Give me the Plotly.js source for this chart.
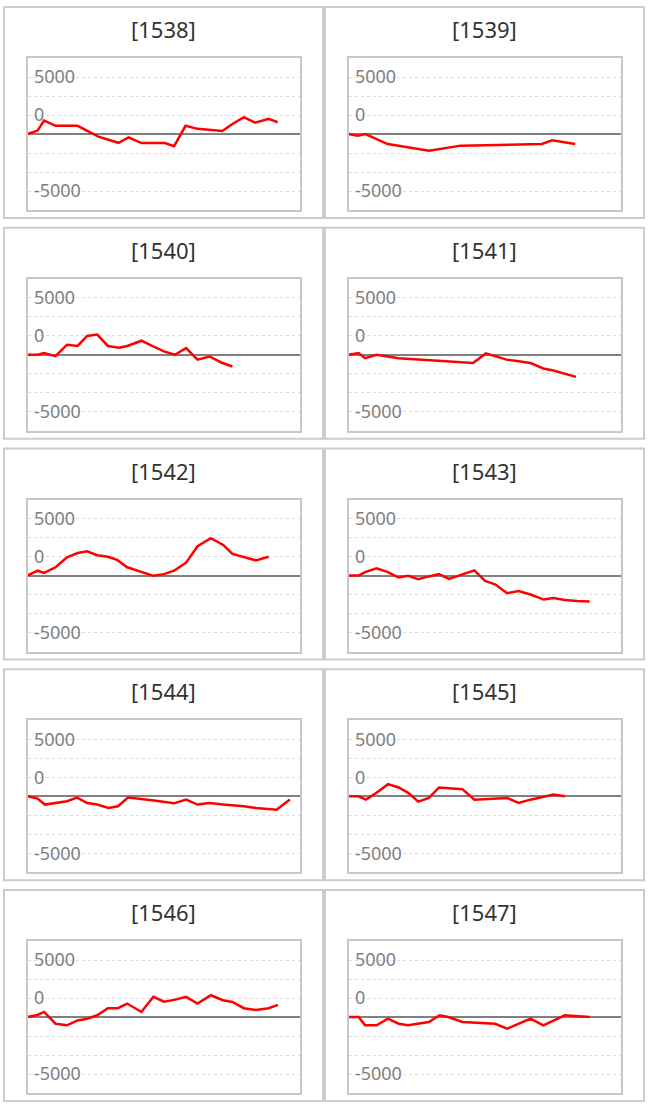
<!DOCTYPE html>
<html>
<head>
<meta charset="utf-8">
<script src="https://cdn.plot.ly/plotly-3.0.1.min.js"></script>
<style>
  html, body { margin: 0; padding: 0; background: #fff; }
  #chart { width: 649px; height: 1110px; }
</style>
</head>
<body>
<div id="chart"></div>
<script>
// panel ids
const ids = ['1538', '1539', '1540', '1541', '1542', '1543', '1544', '1545', '1546', '1547'];

// x positions (time axis, 0..100) and values per panel
const x1538 = [0, 3.7, 6.1, 10.3, 18.4, 26.0, 33.4, 37.1, 41.8, 50.4, 53.8, 58.0, 62.4, 71.5, 75.2, 79.4, 83.5, 88.5, 91.8];
const y1538 = [0, 300, 1180, 720, 720, -230, -770, -300, -800, -800, -1070, 720, 450, 270, 880, 1480, 1000, 1330, 1030];

const x1539 = [0, 3.4, 6.2, 14.4, 29.6, 41.2, 71.0, 74.7, 83.2];
const y1539 = [0, -150, 0, -880, -1460, -1020, -880, -550, -880];

const x1540 = [0, 3.7, 6.1, 10.3, 14.5, 18.4, 21.9, 25.6, 29.5, 33.7, 36.6, 41.8, 45.7, 50.1, 54.1, 58.2, 62.4, 66.8, 71.3, 75.2];
const y1540 = [0, 0, 150, -120, 880, 770, 1650, 1770, 770, 620, 770, 1230, 770, 300, 0, 580, -430, -150, -700, -1030];

const x1541 = [0, 3.7, 6.1, 10.3, 18.4, 45.7, 50.4, 58.0, 66.8, 71.5, 75.2, 83.5];
const y1541 = [0, 150, -300, 0, -300, -730, 120, -430, -730, -1200, -1380, -1940];

const x1542 = [0, 3.7, 6.1, 10.3, 14.5, 18.4, 21.9, 25.6, 29.5, 32.9, 36.6, 41.8, 46.2, 50.1, 53.8, 58.2, 62.4, 67.3, 71.8, 75.2, 79.4, 83.8, 88.5];
const y1542 = [0, 420, 230, 720, 1600, 1970, 2120, 1780, 1640, 1370, 720, 300, -30, 120, 420, 1130, 2570, 3270, 2680, 1900, 1640, 1330, 1640];

const x1543 = [0, 3.7, 6.1, 10.3, 14.5, 18.4, 21.9, 25.6, 29.5, 33.2, 36.9, 41.8, 46.2, 50.1, 53.8, 58.2, 62.4, 66.8, 71.7, 75.2, 79.4, 83.8, 88.5];
const y1543 = [0, 0, 300, 630, 300, -180, -30, -330, -80, 120, -300, 120, 450, -480, -770, -1550, -1370, -1670, -2110, -1970, -2140, -2230, -2290];

const x1544 = [0, 3.7, 6.4, 10.3, 14.5, 18.2, 21.9, 25.6, 29.7, 33.2, 36.9, 45.7, 53.8, 58.2, 62.4, 66.8, 71.7, 79.4, 83.8, 91.4, 96.3];
const y1544 = [0, -200, -730, -590, -440, -120, -590, -730, -1030, -880, -120, -350, -620, -290, -730, -590, -730, -880, -1030, -1180, -290];

const x1545 = [0, 3.7, 6.4, 10.3, 14.5, 18.4, 21.9, 25.6, 29.5, 33.2, 41.8, 46.2, 58.2, 62.4, 66.8, 71.7, 75.2, 79.4];
const y1545 = [0, 0, -300, 300, 1060, 770, 300, -470, -150, 770, 620, -300, -150, -590, -300, 0, 150, 0];

const x1546 = [0, 3.7, 6.1, 10.3, 14.5, 18.4, 21.9, 25.6, 29.5, 33.2, 36.6, 41.8, 46.2, 50.1, 53.8, 58.2, 62.4, 67.3, 71.7, 75.2, 79.4, 83.8, 88.5, 91.9];
const y1546 = [0, 180, 440, -590, -730, -300, -150, 150, 770, 770, 1180, 440, 1770, 1350, 1500, 1770, 1180, 1910, 1470, 1320, 770, 620, 770, 1060];

const x1547 = [0, 3.7, 6.1, 10.3, 14.5, 18.4, 21.9, 29.5, 33.4, 36.6, 41.8, 53.8, 58.2, 66.8, 71.5, 79.4, 88.5];
const y1547 = [0, 0, -730, -730, -150, -590, -730, -440, 150, 0, -440, -590, -1030, -150, -730, 150, 0];

const xs = [x1538, x1539, x1540, x1541, x1542, x1543, x1544, x1545, x1546, x1547];
const ys = [y1538, y1539, y1540, y1541, y1542, y1543, y1544, y1545, y1546, y1547];

// y ticks as they appear on the original (labels sit on every third line)
const step = 5000 / 3;
const tickVals = [5000, step, -5000];
const tickText = ['5000', '0', '-5000'];

const W = 649, H = 1110;
const panelW = 319, panelH = 211;
const colLeft = [4, 325];
const rowTop = r => 7 + r * 220.75;

const fx = px => px / W;
const fy = py => 1 - py / H;

const traces = [];
const layout = {
  width: W,
  height: H,
  margin: { l: 0, r: 0, t: 0, b: 0 },
  paper_bgcolor: '#fff',
  plot_bgcolor: '#fff',
  showlegend: false,
  shapes: [],
  annotations: []
};

ids.forEach((id, i) => {
  const col = i % 2, row = Math.floor(i / 2);
  const left = colLeft[col], top = rowTop(row);
  const n = i === 0 ? '' : String(i + 1);

  traces.push({
    x: xs[i],
    y: ys[i],
    xaxis: 'x' + n,
    yaxis: 'y' + n,
    type: 'scatter',
    mode: 'lines',
    line: { color: '#ff0000', width: 2.5 },
    hoverinfo: 'skip'
  });

  layout['xaxis' + n] = {
    domain: [fx(left + 23.5), fx(left + 296)],
    anchor: 'y' + n,
    range: [0, 100],
    showgrid: false,
    zeroline: false,
    showticklabels: false,
    ticks: '',
    showline: true,
    mirror: true,
    linecolor: '#c8c8c8',
    linewidth: 2,
    fixedrange: true
  };

  layout['yaxis' + n] = {
    domain: [fy(top + 203), fy(top + 51)],
    anchor: 'x' + n,
    range: [-4 * step, 4 * step],
    tickmode: 'array',
    tickvals: tickVals,
    ticktext: tickText,
    ticks: '',
    ticklabelposition: 'inside',
    ticklabelstandoff: 7,
    tickfont: { family: 'Noto Sans', size: 18, color: '#7f7f7f' },
    showgrid: true,
    gridcolor: '#dcdcdc',
    griddash: 'dot',
    gridwidth: 1,
    minor: {
      tick0: 0,
      dtick: step,
      showgrid: true,
      gridcolor: '#dcdcdc',
      griddash: 'dot',
      gridwidth: 1
    },
    zeroline: true,
    zerolinecolor: '#808080',
    zerolinewidth: 2,
    showline: true,
    mirror: true,
    linecolor: '#c8c8c8',
    linewidth: 2,
    fixedrange: true
  };

  // panel frame
  layout.shapes.push({
    type: 'rect',
    xref: 'paper', yref: 'paper',
    x0: fx(left), x1: fx(left + panelW),
    y0: fy(top + panelH), y1: fy(top),
    line: { color: '#cccccc', width: 2 },
    layer: 'below'
  });

  layout.annotations.push({
    xref: 'paper', yref: 'paper',
    x: fx(left + panelW / 2), y: fy(top + 22),
    xanchor: 'center', yanchor: 'middle',
    text: '[' + id + ']',
    showarrow: false,
    font: { family: 'Noto Sans', size: 22, color: '#333333' }
  });
});

Plotly.newPlot('chart', traces, layout, { staticPlot: true });
</script>
</body>
</html>
